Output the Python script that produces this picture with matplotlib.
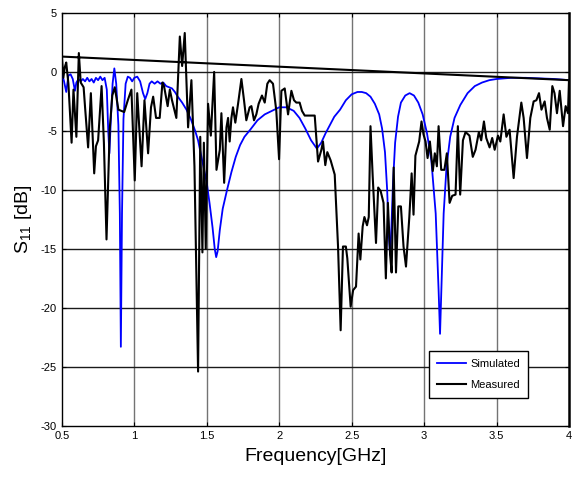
import numpy as np
import matplotlib
matplotlib.use('Agg')
import matplotlib.pyplot as plt

plt.rcParams['font.family'] = ['Liberation Sans Narrow', 'Liberation Sans', 'DejaVu Sans']
plt.rcParams['mathtext.default'] = 'regular'
plt.rcParams['axes.unicode_minus'] = False

# simulated S11 (blue)
sim_f = [0.50, 0.515, 0.53, 0.545, 0.56, 0.575, 0.59, 0.60, 0.615, 0.63, 0.645, 0.66,
         0.675, 0.69, 0.705, 0.72, 0.735, 0.75, 0.765, 0.78, 0.795, 0.81, 0.82, 0.828,
         0.838, 0.85, 0.862, 0.875, 0.89, 0.90, 0.907, 0.915, 0.925, 0.94, 0.955, 0.97,
         0.985, 1.00, 1.02, 1.04, 1.06, 1.075, 1.09, 1.105, 1.12, 1.14, 1.16, 1.18, 1.20,
         1.22, 1.24, 1.26, 1.28, 1.30, 1.33, 1.36, 1.39, 1.42, 1.44, 1.46, 1.48, 1.50,
         1.52, 1.54, 1.555, 1.565, 1.575, 1.59, 1.61, 1.64, 1.67, 1.70, 1.73, 1.76, 1.80,
         1.85, 1.90, 1.95, 2.00, 2.05, 2.10, 2.14, 2.18, 2.22, 2.26, 2.29, 2.32, 2.35,
         2.38, 2.42, 2.46, 2.50, 2.54, 2.57, 2.60, 2.63, 2.66, 2.69, 2.71, 2.73, 2.745,
         2.755, 2.765, 2.775, 2.785, 2.80, 2.82, 2.84, 2.87, 2.90, 2.93, 2.96, 2.99, 3.02,
         3.05, 3.08, 3.10, 3.11, 3.12, 3.135, 3.155, 3.18, 3.21, 3.25, 3.30, 3.35, 3.40,
         3.45, 3.50, 3.60, 3.70, 3.80, 3.90, 4.00]
sim_db = [-0.1, -0.8, -1.7, -0.3, -0.2, -0.6, -1.6, -0.9, -0.6, -0.8, -0.6, -0.8,
          -0.5, -0.8, -0.6, -0.9, -0.5, -0.7, -0.4, -0.7, -0.5, -1.5, -5.0, -6.9,
          -4.0, -1.0, 0.3, -1.0, -4.5, -12.0, -23.3, -12.0, -4.0, -1.0, -0.4, -0.5,
          -0.8, -0.5, -0.4, -0.8, -1.8, -2.3, -1.8, -1.0, -0.8, -1.0, -0.8, -1.0, -0.9,
          -1.2, -1.3, -1.4, -1.7, -2.1, -2.6, -3.2, -4.0, -5.0, -5.8, -7.0, -8.2, -9.4,
          -11.2, -13.2, -15.0, -15.7, -15.2, -13.4, -11.6, -10.0, -8.5, -7.2, -6.2, -5.5, -4.9,
          -4.1, -3.6, -3.3, -3.0, -3.0, -3.3, -3.9, -4.8, -5.8, -6.5, -6.0, -5.2, -4.5,
          -3.8, -3.2, -2.4, -1.9, -1.7, -1.7, -1.8, -2.1, -2.7, -3.6, -4.8, -6.8, -10.0,
          -13.5, -15.5, -13.0, -9.5, -6.0, -3.8, -2.6, -2.0, -1.8, -2.0, -2.6, -3.6, -5.2,
          -7.5, -12.0, -18.5, -22.2, -18.0, -12.0, -8.0, -5.5, -3.9, -2.8, -1.8, -1.2, -0.9,
          -0.7, -0.6, -0.5, -0.5, -0.55, -0.6, -0.7]

# measured S11 (black)
meas_f = [0.50, 0.51, 0.52, 0.53, 0.545, 0.567, 0.58, 0.60, 0.617, 0.63, 0.65, 0.66,
          0.681, 0.70, 0.723, 0.735, 0.75, 0.774, 0.79, 0.808, 0.83, 0.848, 0.865, 0.89,
          0.91, 0.93, 0.955, 0.98, 1.003, 1.02, 1.05, 1.07, 1.095, 1.115, 1.13, 1.15,
          1.175, 1.194, 1.205, 1.23, 1.245, 1.26, 1.29, 1.314, 1.33, 1.348, 1.371, 1.394,
          1.415, 1.44, 1.455, 1.47, 1.48, 1.493, 1.509, 1.528, 1.551, 1.567, 1.59, 1.601,
          1.62, 1.636, 1.647, 1.658, 1.67, 1.681, 1.697, 1.716, 1.739, 1.757, 1.773, 1.796,
          1.808, 1.826, 1.842, 1.858, 1.881, 1.90, 1.918, 1.934, 1.957, 1.98, 1.999, 2.015,
          2.038, 2.061, 2.084, 2.102, 2.118, 2.141, 2.157, 2.176, 2.199, 2.222, 2.245, 2.268,
          2.291, 2.302, 2.318, 2.332, 2.355, 2.383, 2.406, 2.424, 2.44, 2.46, 2.47, 2.493,
          2.51, 2.53, 2.548, 2.56, 2.576, 2.588, 2.606, 2.618, 2.63, 2.645, 2.668, 2.683,
          2.70, 2.72, 2.736, 2.75, 2.766, 2.776, 2.79, 2.806, 2.822, 2.84, 2.858, 2.875,
          2.898, 2.914, 2.927, 2.94, 2.966, 2.982, 2.996, 3.01, 3.024, 3.04, 3.06, 3.074,
          3.088, 3.10, 3.118, 3.14, 3.157, 3.176, 3.194, 3.217, 3.233, 3.249, 3.268, 3.286,
          3.313, 3.336, 3.355, 3.378, 3.394, 3.413, 3.429, 3.452, 3.47, 3.487, 3.51, 3.526,
          3.549, 3.568, 3.59, 3.618, 3.641, 3.671, 3.687, 3.71, 3.733, 3.756, 3.775, 3.793,
          3.81, 3.832, 3.848, 3.867, 3.885, 3.90, 3.917, 3.936, 3.959, 3.977, 3.993, 4.00]
meas_db = [1.3, -0.5, 0.4, 0.8, -1.0, -6.0, -1.5, -5.5, 1.6, -0.9, -1.3, -3.0,
           -6.4, -1.8, -8.6, -6.3, -5.8, -1.2, -6.0, -14.2, -4.9, -2.0, -1.3, -3.2,
           -3.3, -3.4, -2.4, -1.5, -9.2, -1.8, -8.0, -2.4, -6.9, -3.0, -2.1, -3.9,
           -3.9, -0.9, -1.2, -2.9, -1.5, -2.4, -3.9, 3.0, 0.5, 3.3, -4.7, -0.7,
           -8.0, -25.4, -5.5, -15.3, -6.0, -15.0, -2.7, -5.4, 0.0, -8.3, -6.6, -3.5,
           -9.4, -4.7, -3.9, -5.9, -3.9, -3.0, -4.3, -2.7, -0.6, -2.4, -4.1, -3.0,
           -2.9, -4.1, -3.6, -2.7, -2.0, -2.6, -1.0, -0.7, -1.0, -3.3, -7.4, -1.6,
           -1.4, -3.6, -1.6, -2.4, -2.6, -2.6, -3.3, -3.7, -3.7, -3.7, -3.7, -7.6,
           -6.6, -5.9, -7.9, -6.8, -7.5, -8.7, -14.8, -21.9, -14.8, -14.8, -15.8, -19.9,
           -18.5, -18.2, -13.7, -15.9, -13.1, -12.3, -13.0, -12.3, -4.6, -8.8, -14.5, -9.8,
           -10.1, -11.1, -17.5, -11.1, -15.6, -17.0, -8.1, -17.0, -11.4, -11.4, -14.8, -16.5,
           -12.3, -8.6, -12.1, -7.1, -5.9, -4.2, -5.3, -5.9, -7.3, -5.9, -8.4, -6.9,
           -8.0, -4.6, -8.3, -8.3, -6.9, -11.1, -10.5, -10.4, -4.6, -10.4, -5.8, -5.1,
           -5.4, -7.2, -6.6, -5.1, -5.8, -4.2, -5.6, -6.4, -5.6, -6.6, -5.4, -5.9,
           -3.6, -5.5, -4.9, -9.0, -5.5, -2.6, -3.9, -7.3, -3.9, -2.5, -2.4, -1.8,
           -3.2, -2.5, -3.9, -4.9, -1.2, -1.8, -3.5, -1.6, -4.6, -2.9, -3.5, -0.7]

xticks = [0.5, 1, 1.5, 2, 2.5, 3, 3.5, 4]
xtick_labels = ['0.5', '1', '1.5', '2', '2.5', '3', '3.5', '4']
yticks = [5, 0, -5, -10, -15, -20, -25, -30]

fig = plt.figure(figsize=(5.73, 4.79), dpi=100)
ax = fig.add_axes([0.108, 0.111, 0.885, 0.862])

ax.plot(sim_f, sim_db, color='#0000ff', lw=1.3, label='Simulated', zorder=3)
# the measured trace closes back on its first point, as in the original
ax.plot(meas_f + [meas_f[0]], meas_db + [meas_db[0]], color='black', lw=1.5,
        label='Measured', zorder=4)

ax.set_xlim(0.5, 4)
ax.set_ylim(-30, 5)
ax.set_xticks(xticks)
ax.set_xticklabels(xtick_labels)
ax.set_yticks(yticks)
ax.tick_params(direction='in', top=True, right=True, labelsize=8, length=3, width=0.8)

for t in xticks[1:-1]:
    ax.axvline(t, color='0.45', lw=1.0, zorder=1)
for t in yticks[1:-1]:
    ax.axhline(t, color='0.1', lw=1.0, zorder=1)

for s in ax.spines.values():
    s.set_linewidth(1.0)
ax.spines['right'].set_linewidth(1.8)

ax.set_xlabel('Frequency[GHz]', fontsize=14, labelpad=5)
ax.set_ylabel('S$_{11}$ [dB]', fontsize=14, labelpad=5)

leg = ax.legend(loc='upper left', bbox_to_anchor=(429 / 573, 1 - 351 / 479),
                bbox_transform=fig.transFigure, borderaxespad=0, fancybox=False,
                framealpha=1, edgecolor='black', fontsize=8, handlelength=2.6,
                handletextpad=0.4, labelspacing=1.0, borderpad=0.7)
leg.get_frame().set_linewidth(1.0)

fig.savefig('out.png', dpi=100)
